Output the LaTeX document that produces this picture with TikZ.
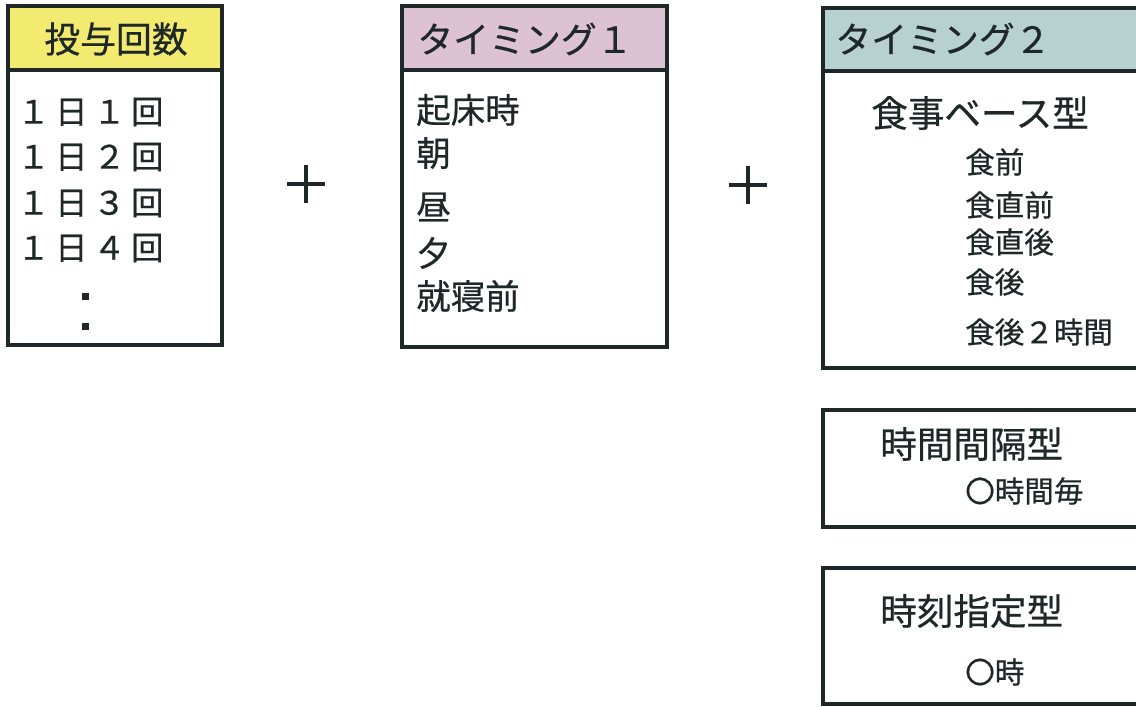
\documentclass[tikz,border=0pt]{standalone}
\usepackage{fontspec}
\newfontfamily\jp[FakeBold=0.6]{Noto Sans CJK JP}
\definecolor{frame}{HTML}{1F2828}
\definecolor{doseyellow}{HTML}{F3EB6F}
\definecolor{timepink}{HTML}{DDC2D3}
\definecolor{timeblue}{HTML}{B7D1D0}
\tikzset{
  box/.style={draw=frame, line width=3.5pt},
  head/.style={font=\jp\fontsize{25.5}{30}\selectfont, inner sep=0pt, text=frame},
  big/.style={font=\jp\fontsize{26}{30}\selectfont, inner sep=0pt, anchor=west, text=frame},
  item/.style={font=\jp\fontsize{24.5}{28}\selectfont, inner sep=0pt, anchor=west, text=frame},
  count/.style={font=\jp\fontsize{23}{28}\selectfont, inner sep=0pt, anchor=west, text=frame},
  sub/.style={font=\jp\fontsize{21}{24}\selectfont, inner sep=0pt, anchor=west, text=frame},
  cross/.style={draw=frame, line width=2.6pt}
}
\newcommand{\gap}{\hspace{4pt}}
\begin{document}
\begin{tikzpicture}[x=0.025cm,y=-0.025cm]
\useasboundingbox (0,0) rectangle (1136,706);
\clip (0,0) rectangle (1136,706);
\coordinate (plusA) at (306,184);
\coordinate (plusB) at (748,185);
% Draw box headers
\fill[doseyellow] (8,6) rectangle (222,70);
\fill[timepink] (402,6) rectangle (667,70);
\fill[timeblue] (823,8) rectangle (1150,71);
% Draw boxes
\draw[box] (8,6) rectangle (222,345) (8,70) -- (222,70);
\draw[box] (402,6) rectangle (667,347) (402,70) -- (667,70);
\draw[box] (823,8) rectangle (1150,368) (823,71) -- (1150,71);
\draw[box] (823,410) rectangle (1150,527);
\draw[box] (823,568) rectangle (1150,704);
% Number of doses
\node[head] (dose) at (116,39) {投与回数};
\node[count] (once) at (17,112) {１\gap 日\gap １\gap 回};
\node[count] (twice) at (17,157) {１\gap 日\gap ２\gap 回};
\node[count] (thrice) at (17,203) {１\gap 日\gap ３\gap 回};
\node[count] (four) at (17,248) {１\gap 日\gap ４\gap 回};
\fill[frame] (82,293) rectangle (89,300);
\fill[frame] (82,323) rectangle (89,330);
% Timing 1
\node[head] (timeA) at (525,39) {タイミング１};
\node[item] (wake) at (416,110) {起床時};
\node[item] (morning) at (416,153) {朝};
\node[item] (noon) at (416,207) {昼};
\node[item] (evening) at (416,253) {夕};
\node[item] (bed) at (416,296) {就寝前};
% Timing 2
\node[head] (timeB) at (943,39) {タイミング２};
\node[big] (meal) at (871,113) {食事ベース型};
\node[sub] (before) at (965,162) {食前};
\node[sub] (justbefore) at (965,205) {食直前};
\node[sub] (justafter) at (965,242) {食直後};
\node[sub] (after) at (965,282) {食後};
\node[sub] (twohours) at (965,332) {食後２時間};
\node[big] (interval) at (880,444) {時間間隔型};
\node[sub] (every) at (965,491) {〇時間毎};
\node[big] (clock) at (880,611) {時刻指定型};
\node[sub] (oclock) at (965,672) {〇時};
% Draw plus signs
\draw[cross] (plusA) +(-19,0) -- +(19,0) (plusA) +(0,-19) -- +(0,19);
\draw[cross] (plusB) +(-19,0) -- +(19,0) (plusB) +(0,-19) -- +(0,19);
\end{tikzpicture}
\end{document}
